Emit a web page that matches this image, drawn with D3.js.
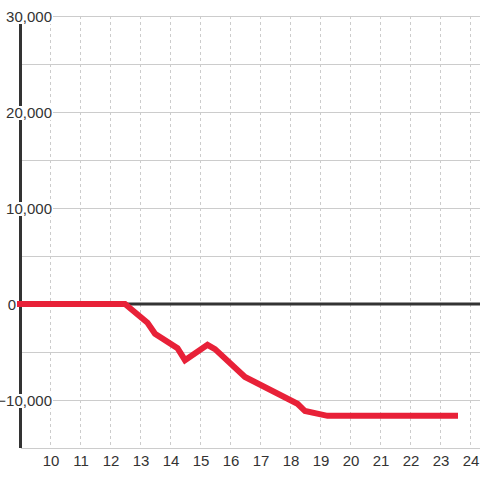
<!DOCTYPE html>
<html>
<head>
<meta charset="utf-8">
<script src="https://cdn.jsdelivr.net/npm/d3@7"></script>
<style>
  body { margin: 0; background: #fff; }
  text { font-family: "Liberation Sans", Arial, sans-serif; font-size: 15px; fill: #333; }
</style>
</head>
<body>
<script>
// chart data (hours vs. value)
const hours  = [9, 12.5, 13.25, 13.5, 14.25, 14.5, 15.25, 15.5, 16.5, 18.25, 18.5, 19.25, 23.5];
const values = [0, 0, -1950, -3100, -4600, -5850, -4250, -4700, -7600, -10400, -11150, -11650, -11650];

const xTicks = [10, 11, 12, 13, 14, 15, 16, 17, 18, 19, 20, 21, 22, 23, 24];
const yGrid  = [-15000, -10000, -5000, 0, 5000, 10000, 15000, 20000, 25000, 30000];
const yLabels = [-10000, 0, 10000, 20000, 30000];

const width = 480;
const height = 480;

const x = d3.scaleLinear().domain([9, 24 + 1 / 3]).range([20, 480]);
const y = d3.scaleLinear().domain([-15000, 30000]).range([448, 16]);

const svg = d3.select('body')
  .append('svg')
  .attr('width', width)
  .attr('height', height);

// horizontal gridlines
svg.append('g').selectAll('line')
  .data(yGrid)
  .enter().append('line')
    .attr('x1', 21).attr('x2', 480)
    .attr('y1', (d) => y(d) + 0.5).attr('y2', (d) => y(d) + 0.5)
    .attr('stroke', '#ccc')
    .attr('stroke-width', 1);

// vertical dotted gridlines
svg.append('g').selectAll('line')
  .data(xTicks)
  .enter().append('line')
    .attr('x1', (d) => x(d) + 0.5).attr('x2', (d) => x(d) + 0.5)
    .attr('y1', y(30000)).attr('y2', y(-15000))
    .attr('stroke', '#ccc')
    .attr('stroke-dasharray', '3,3')
    .attr('stroke-width', 1);

// zero line
svg.append('line')
  .attr('x1', 20).attr('x2', 480)
  .attr('y1', y(0)).attr('y2', y(0))
  .attr('stroke', '#333')
  .attr('stroke-width', 3);

// y axis line
svg.append('line')
  .attr('x1', 20.5).attr('x2', 20.5)
  .attr('y1', y(30000)).attr('y2', y(-15000))
  .attr('stroke', '#333')
  .attr('stroke-width', 3);

// y labels with white background
const fmt = d3.format(',');
const yl = svg.append('g').selectAll('g')
  .data(yLabels)
  .enter().append('g');

yl.append('text')
  .attr('x', (d) => d === 0 ? 16 : 52)
  .attr('y', (d) => y(d) + 5.5)
  .attr('text-anchor', 'end')
  .text((d) => fmt(d));

yl.each(function(d) {
  if (d === 0) return;
  const g = d3.select(this);
  const bb = g.select('text').node().getBBox();
  g.insert('rect', 'text')
    .attr('x', bb.x - 1)
    .attr('y', y(d) - 6)
    .attr('width', 53 - (bb.x - 1))
    .attr('height', 14)
    .attr('fill', '#fff');
});

// x labels
svg.append('g').selectAll('text')
  .data(xTicks)
  .enter().append('text')
    .attr('x', (d) => x(d) + 1)
    .attr('y', 466)
    .attr('text-anchor', 'middle')
    .text((d) => d);

// red series line
const line = d3.line()
  .x((d, i) => x(hours[i]))
  .y((d) => y(d));

svg.append('path')
  .datum(values)
  .attr('d', line)
  .attr('fill', 'none')
  .attr('stroke', '#e82138')
  .attr('stroke-width', 6)
  .attr('stroke-linecap', 'square')
  .attr('stroke-linejoin', 'miter');
</script>
</body>
</html>
